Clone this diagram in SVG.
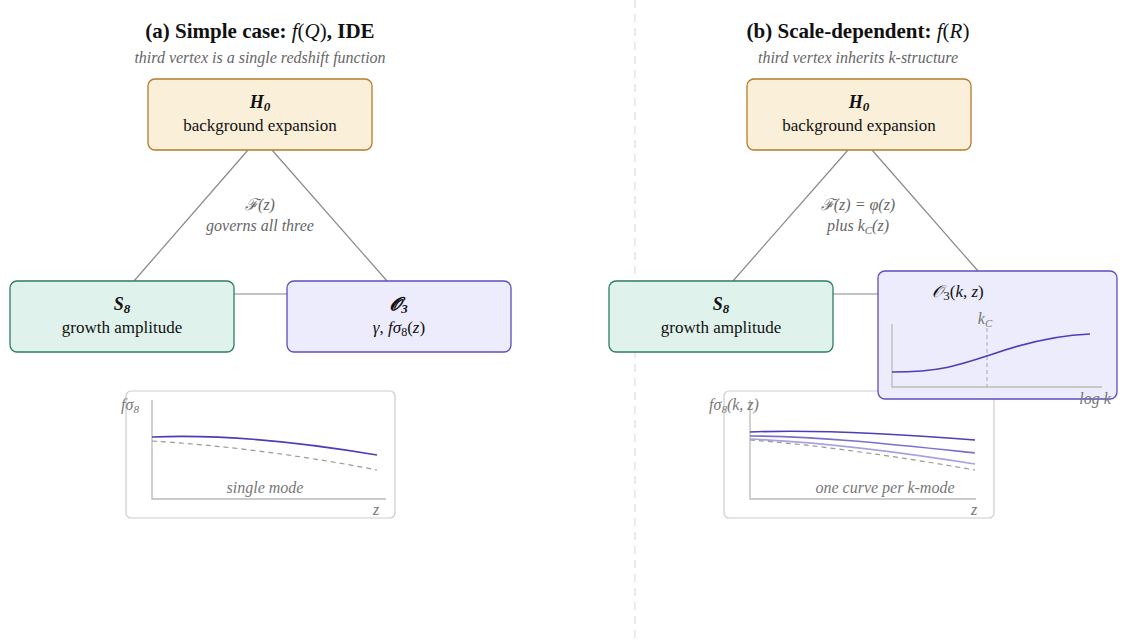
<svg xmlns="http://www.w3.org/2000/svg" width="1127" height="644" viewBox="0 0 1127 644">
<style>
text{font-family:"Liberation Serif","DejaVu Serif",serif;text-anchor:middle}
.t{font-size:21px;font-weight:bold;fill:#111}
.sub{font-size:16px;font-style:italic;fill:#666}
.nt{font-size:18px;font-weight:bold;font-style:italic;fill:#111}
.nl{font-size:17px;fill:#111}
.lab{font-size:16px;font-style:italic;fill:#666}
.ax{font-size:16px;font-style:italic;fill:#777}
.edge{stroke:#888;stroke-width:1.2;fill:none}
.h{fill:#faefd9;stroke:#b87a2c;stroke-width:1.3}
.s{fill:#e0f2ec;stroke:#2e7d5e;stroke-width:1.3}
.o{fill:#ececfc;stroke:#5a4fbf;stroke-width:1.3}
.pb{fill:none;stroke:#ccc;stroke-width:1.2}
.axl{stroke:#bbb;stroke-width:1.3;fill:none}
</style>
<line x1="635" y1="0" x2="635" y2="644" stroke="#ddd" stroke-width="1.2" stroke-dasharray="8,6"/>
<text class="t" x="260" y="38">(a) Simple case: <tspan font-weight="normal" font-style="italic">f</tspan><tspan font-weight="normal">(</tspan><tspan font-weight="normal" font-style="italic">Q</tspan><tspan font-weight="normal">)</tspan>, IDE</text>
<text class="sub" x="260" y="63">third vertex is a single redshift function</text>
<text class="t" x="858" y="38">(b) Scale-dependent: <tspan font-weight="normal" font-style="italic">f</tspan><tspan font-weight="normal">(</tspan><tspan font-weight="normal" font-style="italic">R</tspan><tspan font-weight="normal">)</tspan></text>
<text class="sub" x="858" y="63">third vertex inherits <tspan>k</tspan>-structure</text>
<g id="connectors">
<line class="edge" x1="248" y1="150" x2="134" y2="281"/>
<line class="edge" x1="272" y1="150" x2="387" y2="281"/>
<line class="edge" x1="234" y1="294" x2="287" y2="294"/>
<line class="edge" x1="848" y1="150" x2="733" y2="281"/>
<line class="edge" x1="872" y1="150" x2="978" y2="271"/>
<line class="edge" x1="833" y1="294" x2="878" y2="294"/>
</g>
<text class="lab" x="260" y="210">ℱ(z)</text>
<text class="lab" x="260" y="231">governs all three</text>
<text class="lab" x="858" y="210">ℱ(z) = φ(z)</text>
<text class="lab" x="858" y="231">plus k<tspan font-size="11" dy="3">C</tspan><tspan dy="-3">(z)</tspan></text>
<g id="H0a"><rect class="h" x="148" y="79" width="224" height="71" rx="7"/>
<text class="nt" x="260" y="108">H<tspan font-size="13" dy="3">0</tspan></text>
<text class="nl" x="260" y="131">background expansion</text></g>
<g id="S8a"><rect class="s" x="10" y="281" width="224" height="71" rx="7"/>
<text class="nt" x="122" y="310">S<tspan font-size="13" dy="3">8</tspan></text>
<text class="nl" x="122" y="333">growth amplitude</text></g>
<g id="O3a"><rect class="o" x="287" y="281" width="224" height="71" rx="7"/>
<text class="nt" x="399" y="310">𝓞<tspan font-size="13" dy="3">3</tspan></text>
<text class="nl" x="399" y="333"><tspan font-style="italic">γ</tspan>, <tspan font-style="italic">fσ</tspan><tspan font-size="12" dy="3">8</tspan><tspan dy="-3">(</tspan><tspan font-style="italic">z</tspan>)</text></g>
<g id="plotA">
<rect class="pb" x="126" y="391" width="269" height="127" rx="5"/>
<path class="axl" d="M152 400 V499 H386"/>
<path d="M152 437 C220 434 300 442 377 455" fill="none" stroke="#4a3fb5" stroke-width="1.6"/>
<path d="M152 441 C220 445 300 455 377 470" fill="none" stroke="#999" stroke-width="1.2" stroke-dasharray="5,4"/>
<text class="ax" x="130" y="410">fσ<tspan font-size="11" dy="3">8</tspan></text>
<text class="ax" x="265" y="493">single mode</text>
<text class="ax" x="376" y="515">z</text>
</g>
<g id="H0b"><rect class="h" x="747" y="79" width="224" height="71" rx="7"/>
<text class="nt" x="859" y="108">H<tspan font-size="13" dy="3">0</tspan></text>
<text class="nl" x="859" y="131">background expansion</text></g>
<g id="S8b"><rect class="s" x="609" y="281" width="224" height="71" rx="7"/>
<text class="nt" x="721" y="310">S<tspan font-size="13" dy="3">8</tspan></text>
<text class="nl" x="721" y="333">growth amplitude</text></g>
<g id="plotB">
<rect class="pb" x="724" y="391" width="270" height="127" rx="5"/>
<path class="axl" d="M750 400 V499 H976"/>
<path d="M750 432 C820 429 900 434 975 440" fill="none" stroke="#4a3fb5" stroke-width="1.6"/>
<path d="M750 436 C820 436 900 445 975 453" fill="none" stroke="#7a70cc" stroke-width="1.6"/>
<path d="M750 439 C820 442 900 452 975 464" fill="none" stroke="#a9a2e0" stroke-width="1.6"/>
<path d="M750 440 C820 445 900 457 975 470" fill="none" stroke="#999" stroke-width="1.2" stroke-dasharray="5,4"/>
<text class="ax" x="734" y="410">fσ<tspan font-size="11" dy="3">8</tspan><tspan dy="-3">(k, z)</tspan></text>
<text class="ax" x="885" y="493">one curve per k-mode</text>
<text class="ax" x="974" y="515">z</text>
</g>
<g id="O3b"><rect class="o" x="878" y="271" width="239" height="128" rx="7"/>
<text class="nl" x="958" y="297" font-size="19"><tspan font-style="italic">𝒪</tspan><tspan font-size="13" dy="3">3</tspan><tspan dy="-3">(</tspan><tspan font-style="italic">k</tspan>, <tspan font-style="italic">z</tspan>)</text>
<text class="ax" x="985" y="324">k<tspan font-size="11" dy="3">C</tspan></text>
<line x1="987" y1="328" x2="987" y2="387" stroke="#aaa" stroke-dasharray="4,3"/>
<path class="axl" d="M892 324 V387 H1102"/>
<path d="M892 372 C940 372 960 365 990 355 C1030 341 1060 335 1090 334" fill="none" stroke="#4a3fb5" stroke-width="1.6"/>
<text class="ax" x="1095" y="404" font-style="normal">log <tspan font-style="italic">k</tspan></text>
</g>
</svg>
